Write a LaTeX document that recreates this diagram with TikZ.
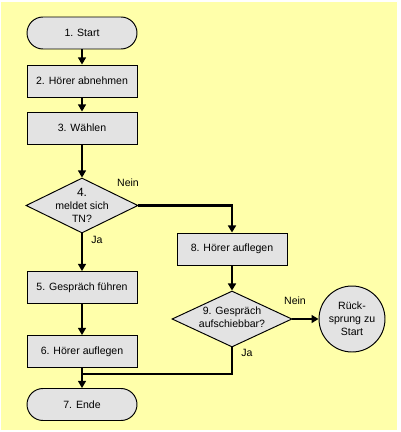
\documentclass[tikz,border=0pt]{standalone}
\usepackage{fontspec}
\setmainfont{Liberation Sans}
\usetikzlibrary{shapes.geometric,arrows.meta}
\definecolor{note-yellow}{RGB}{255,255,170}
\definecolor{box-gray}{RGB}{227,227,227}
\tikzset{
    step-box/.style = {draw, fill=box-gray, line width=0.55pt, rectangle, minimum width=2.2cm, minimum height=0.64cm, inner sep=0pt},
    end-box/.style = {step-box, rounded corners=0.32cm},
    decision/.style = {draw, fill=box-gray, line width=0.55pt, diamond, inner sep=0pt},
    decision-text/.style = {align=center, inner sep=0pt},
    jump-circle/.style = {draw, fill=box-gray, line width=0.55pt, circle, minimum size=1.32cm, inner sep=0pt, align=center},
    flow/.style = {-{Triangle[length=4pt,width=4.5pt]}, line width=0.7pt},
    flow-thick/.style = {flow, line width=1.3pt},
    flow-label/.style = {inner sep=0pt},
}

\begin{document}
\begin{tikzpicture}[x=0.02cm, y=-0.02cm, font=\fontsize{6}{7.5}\selectfont]
\path[fill=white] (0,0) rectangle (400,432);
\fill[note-yellow] (1,2) rectangle (397,430);

\node[end-box] (start) at (82,33) {1. Start};
\node[step-box] (hoerer-ab) at (82,81) {2. Hörer abnehmen};
\node[step-box] (waehlen) at (82,128) {3. Wählen};
\node[decision, minimum width=2.24cm, minimum height=1.1cm,
    label={[decision-text]center:{{\fontsize{6.8}{7.6}\selectfont 4.}\\meldet sich\\TN?}}] (tn) at (82,205.5) {};
\node[step-box] (gespraech) at (82,287.5) {5. Gespräch führen};
\node[step-box] (hoerer-auf) at (82,351.5) {6. Hörer auflegen};
\node[end-box] (ende) at (82,404.5) {7. Ende};
\node[step-box] (hoerer-auf-2) at (232,249) {8. Hörer auflegen};
\node[decision, minimum width=2.4cm, minimum height=1.12cm,
    label={[decision-text, yshift=0.03cm]center:{9. Gespräch\\aufschiebbar?}}] (aufschieb) at (232,319) {};
\node[jump-circle] (ruecksprung) at (352,319) {Rück-\\sprung zu\\Start};
\coordinate (merge) at (82,374);

% Beschriftungen
\node[flow-label] (tn-nein) at (128,183) {Nein};
\node[flow-label] (tn-ja) at (97,240) {Ja};
\node[flow-label] (aufschieb-nein) at (295,301) {Nein};
\node[flow-label] (aufschieb-ja) at (247,353) {Ja};

\draw[flow] (start) -- (hoerer-ab);
\draw[flow] (hoerer-ab) -- (waehlen);
\draw[flow] (waehlen) -- (tn);
\draw[flow] (tn) -- (gespraech);
\draw[flow] (gespraech) -- (hoerer-auf);
\draw[flow] (hoerer-auf) -- (ende);
\draw[flow-thick] (tn.east) -| (hoerer-auf-2.north);
\draw[flow-thick] (hoerer-auf-2) -- (aufschieb);
\draw[flow-thick] (aufschieb) -- (ruecksprung);
\draw[flow-thick, -] (aufschieb.south) |- (merge);
\end{tikzpicture}
\end{document}
